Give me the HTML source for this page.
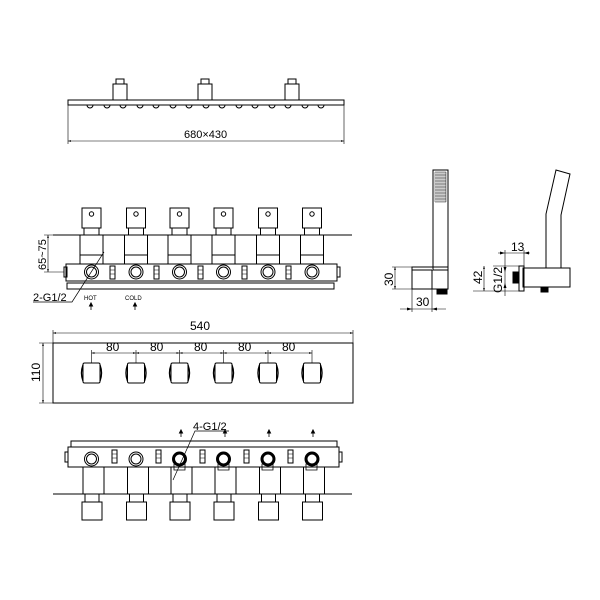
<!DOCTYPE html>
<html><head><style>html,body{margin:0;background:#fff}svg{display:block}</style></head><body>
<svg width="600" height="600" viewBox="0 0 600 600" xmlns="http://www.w3.org/2000/svg" font-family="Liberation Sans, sans-serif" fill="none" stroke="#000" stroke-width="1">
<defs>
<marker id="a" viewBox="0 0 10 10" refX="10" refY="5" markerWidth="7" markerHeight="5" orient="auto-start-reverse"><path d="M0,2 L10,5 L0,8z" fill="#000" stroke="none"/></marker>
</defs>
<!-- TOP VIEW -->
<rect x="68" y="100" width="276" height="5"/>
<g>
<rect x="113" y="84" width="14" height="16"/><rect x="116" y="79" width="8" height="5"/>
<rect x="198" y="84" width="14" height="16"/><rect x="201" y="79" width="8" height="5"/>
<rect x="285" y="84" width="14" height="16"/><rect x="288" y="79" width="8" height="5"/>
</g>
<g>
<path d="M87,105a3,3 0 0 0 6,0M104,105a3,3 0 0 0 6,0M120,105a3,3 0 0 0 6,0M137,105a3,3 0 0 0 6,0M153,105a3,3 0 0 0 6,0M170,105a3,3 0 0 0 6,0M186,105a3,3 0 0 0 6,0M203,105a3,3 0 0 0 6,0M219,105a3,3 0 0 0 6,0M236,105a3,3 0 0 0 6,0M252,105a3,3 0 0 0 6,0M269,105a3,3 0 0 0 6,0M285,105a3,3 0 0 0 6,0M302,105a3,3 0 0 0 6,0M318,105a3,3 0 0 0 6,0"/>
</g>
<path d="M68,105V144M344,105V144" stroke-width="0.6"/>
<line x1="68" y1="141" x2="344" y2="141" stroke-width="0.6" marker-start="url(#a)" marker-end="url(#a)"/>
<text x="184" y="138" font-size="11" fill="#000" stroke="none">680×430</text>

<!-- FRONT MANIFOLD -->
<line x1="53" y1="235" x2="352" y2="235"/>
<rect x="66" y="264" width="271" height="17"/>
<rect x="67" y="283" width="267" height="6"/>
<g id="u">
<rect x="82" y="208" width="19" height="20"/>
<circle cx="91.5" cy="214" r="2.2"/>
<rect x="84" y="228" width="15" height="7"/>
<rect x="80" y="235" width="23" height="20"/>
<path d="M80,255 V264 M103,255 V264"/>
<circle cx="91.5" cy="272" r="7"/><circle cx="91.5" cy="272" r="5"/>
</g>
<use href="#u" x="44.5"/><use href="#u" x="88"/><use href="#u" x="132"/><use href="#u" x="176.5"/><use href="#u" x="220.5"/>
<g fill="#fff"><rect x="110" y="266" width="5" height="13"/><rect x="154" y="266" width="5" height="13"/><rect x="198" y="266" width="5" height="13"/><rect x="242" y="266" width="5" height="13"/><rect x="286" y="266" width="5" height="13"/></g>
<path d="M110,270h5M110,274h5M154,270h5M154,274h5M198,270h5M198,274h5M242,270h5M242,274h5M286,270h5M286,274h5" stroke-width="0.6"/>
<rect x="64" y="267" width="3" height="10"/><rect x="337" y="267" width="3" height="10"/>
<path d="M44,235H80M44,272H64" stroke-width="0.6"/>
<line x1="48" y1="235" x2="48" y2="272" stroke-width="0.6" marker-start="url(#a)" marker-end="url(#a)"/>
<text transform="translate(46,270) rotate(-90)" font-size="11" fill="#000" stroke="none">65~75</text>
<path d="M33,302H72L104,252" stroke-width="0.7"/>
<text x="33" y="301" font-size="11" fill="#000" stroke="none">2-G1/2</text>
<text x="84" y="300" font-size="6" fill="#000" stroke="none">HOT</text>
<text x="125" y="300" font-size="6" fill="#000" stroke="none">COLD</text>
<path d="M91,310V305M135,310V305" stroke-width="0.8"/><path d="M89.5,306L91,303L92.5,306zM133.5,306L135,303L136.5,306z" fill="#000"/>

<!-- FRONT PLATE -->
<rect x="53" y="343" width="300" height="60"/>
<path d="M53,343V330M353,343V330" stroke-width="0.6"/>
<line x1="53" y1="333" x2="353" y2="333" stroke-width="0.6" marker-start="url(#a)" marker-end="url(#a)"/>
<text x="190" y="330" font-size="12" fill="#000" stroke="none">540</text>
<path d="M53,343H39M53,403H39" stroke-width="0.6"/>
<line x1="43" y1="343" x2="43" y2="403" stroke-width="0.6" marker-start="url(#a)" marker-end="url(#a)"/>
<text transform="translate(40,382) rotate(-90)" font-size="12" fill="#000" stroke="none">110</text>
<g id="k"><rect x="83" y="363" width="17" height="20" rx="1.5"/><path d="M83,365Q80,373 83,381M100,365Q103,373 100,381" stroke-width="1.4"/><line x1="91.5" y1="350" x2="91.5" y2="363" stroke-width="0.6"/></g>
<use href="#k" x="44.5"/><use href="#k" x="88"/><use href="#k" x="132"/><use href="#k" x="176.5"/><use href="#k" x="220.5"/>
<g stroke-width="0.6">
<line x1="91.5" y1="353" x2="136" y2="353" marker-start="url(#a)" marker-end="url(#a)"/>
<line x1="136" y1="353" x2="179.5" y2="353" marker-start="url(#a)" marker-end="url(#a)"/>
<line x1="179.5" y1="353" x2="223.5" y2="353" marker-start="url(#a)" marker-end="url(#a)"/>
<line x1="223.5" y1="353" x2="268" y2="353" marker-start="url(#a)" marker-end="url(#a)"/>
<line x1="268" y1="353" x2="312" y2="353" marker-start="url(#a)" marker-end="url(#a)"/>
</g>
<g font-size="12" fill="#000" stroke="none"><text x="106" y="351">80</text><text x="150" y="351">80</text><text x="194" y="351">80</text><text x="238" y="351">80</text><text x="282" y="351">80</text></g>

<!-- BOTTOM VIEW -->
<rect x="71" y="441" width="266" height="6"/>
<rect x="68" y="447" width="271" height="20"/>
<line x1="53" y1="494" x2="352" y2="494"/>
<g id="b">
<circle cx="91.5" cy="459" r="7" fill="#fff"/><circle cx="91.5" cy="459" r="5"/>
<rect x="83" y="467" width="21" height="27"/>
<rect x="85" y="494" width="14" height="8"/>
<rect x="82" y="502" width="20" height="18"/>
</g>
<use href="#b" x="44.5"/><use href="#b" x="88"/><use href="#b" x="132"/><use href="#b" x="176.5"/><use href="#b" x="220.5"/>
<g stroke-width="1.8"><circle cx="179.5" cy="459" r="6"/><circle cx="223.5" cy="459" r="6"/><circle cx="268" cy="459" r="6"/><circle cx="312" cy="459" r="6"/></g>
<path d="M174,464h11v6h-11zM218,464h11v6h-11zM262,464h11v6h-11zM306,464h11v6h-11z" stroke-width="0.8"/>
<g fill="#fff"><rect x="112" y="450" width="5" height="13"/><rect x="156" y="450" width="5" height="13"/><rect x="200" y="450" width="5" height="13"/><rect x="244" y="450" width="5" height="13"/><rect x="288" y="450" width="5" height="13"/></g>
<path d="M112,454h5M112,458h5M156,454h5M156,458h5M200,454h5M200,458h5M244,454h5M244,458h5M288,454h5M288,458h5" stroke-width="0.6"/>
<rect x="65" y="452" width="3" height="10"/><rect x="339" y="452" width="3" height="10"/>
<path d="M229,431H195L173,480" stroke-width="0.7"/>
<text x="193" y="430" font-size="11" fill="#000" stroke="none">4-G1/2</text>
<path d="M181,437V432M225,437V432M269,437V432M313,437V432" stroke-width="0.8"/>
<path d="M179.5,433L181,430L182.5,433zM223.5,433L225,430L226.5,433zM267.5,433L269,430L270.5,433zM311.5,433L313,430L314.5,433z" fill="#000"/>

<!-- HAND SHOWER 1 -->
<rect x="433" y="170" width="15" height="100"/>
<path d="M435,172h11v30h-11z" stroke-width="0.4"/>
<path d="M435,175h11M435,178h11M435,181h11M435,184h11M435,187h11M435,190h11M435,193h11M435,196h11M435,199h11M437,172v30M439,172v30M441,172v30M443,172v30M445,172v30" stroke-width="0.4"/>
<rect x="412" y="267" width="36" height="22"/>
<path d="M412,270H432M432,270V289"/>
<rect x="437" y="289" width="10" height="5" fill="#000"/>
<path d="M392,267H412M392,289H412M412,289V312M432,289V312" stroke-width="0.6"/>
<line x1="395" y1="267" x2="395" y2="289" stroke-width="0.6" marker-start="url(#a)" marker-end="url(#a)"/>
<text transform="translate(393,286) rotate(-90)" font-size="12" fill="#000" stroke="none">30</text>
<line x1="400" y1="309" x2="446" y2="309" stroke-width="0.6"/>
<path d="M412,309l-5,-1.5v3zM432,309l5,-1.5v3z" fill="#000" stroke="none"/>
<text x="416" y="306" font-size="12" fill="#000" stroke="none">30</text>

<!-- HAND SHOWER 2 -->
<path d="M546,268V214L556,170L570,174L561,215V268"/>
<rect x="523" y="268" width="47" height="19"/>
<rect x="519" y="266" width="5" height="25"/>
<rect x="513" y="272" width="6" height="11" fill="#000"/>
<rect x="541" y="287" width="7" height="5" fill="#000"/>
<path d="M505,250V296M524,250V266M493,266H519M473,291H519" stroke-width="0.6"/>
<line x1="498" y1="253" x2="530" y2="253" stroke-width="0.6"/>
<path d="M505,253l-5,-1.5v3zM524,253l5,-1.5v3z" fill="#000" stroke="none"/>
<text x="511" y="251" font-size="12" fill="#000" stroke="none">13</text>
<line x1="484" y1="266" x2="484" y2="291" stroke-width="0.6" marker-start="url(#a)" marker-end="url(#a)"/>
<text transform="translate(482,284) rotate(-90)" font-size="12" fill="#000" stroke="none">42</text>
<path d="M505,272l-1.5,-5h3zM505,283l-1.5,5h3z" fill="#000" stroke="none"/>
<text transform="translate(502,293) rotate(-90)" font-size="12" fill="#000" stroke="none">G1/2</text>
</svg>
</body></html>
